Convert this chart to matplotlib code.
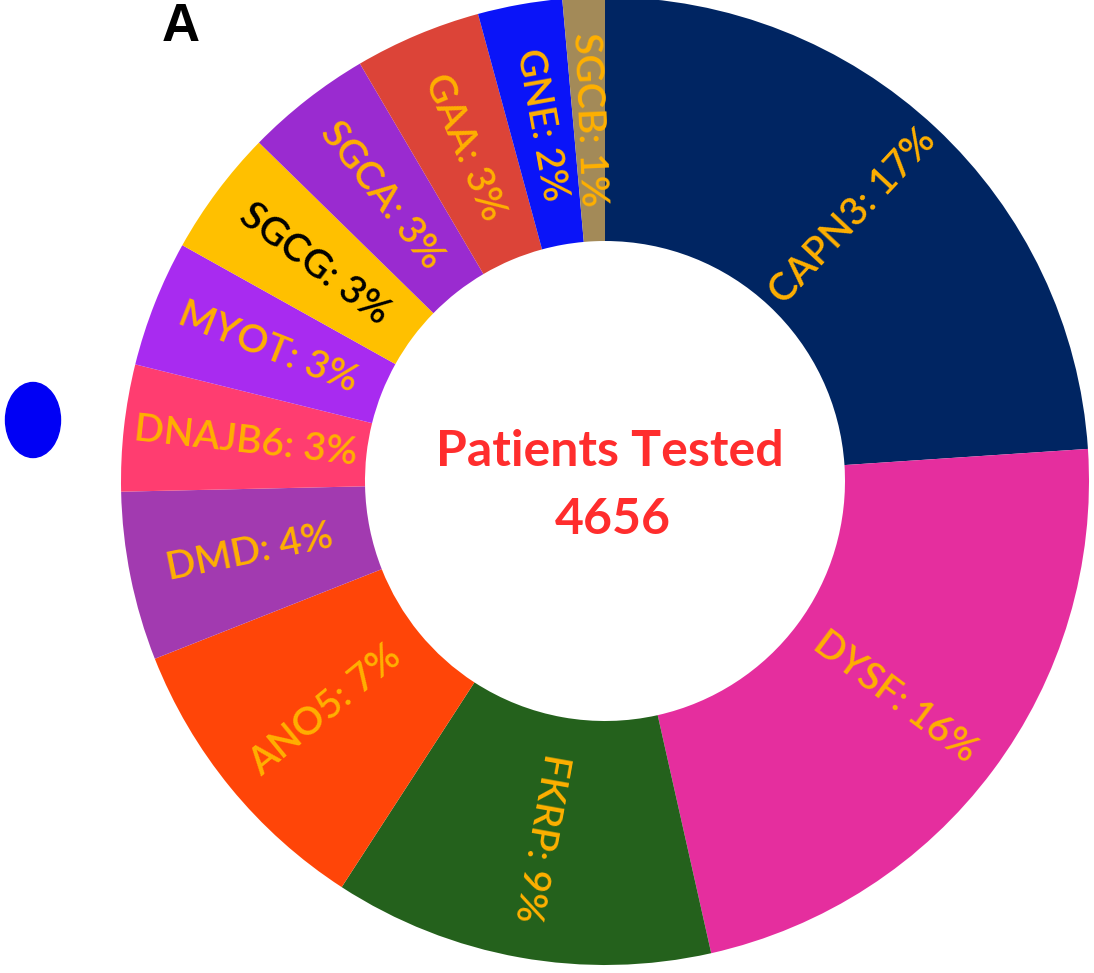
import numpy as np
import matplotlib.pyplot as plt
from matplotlib.patches import Ellipse

genes = ['CAPN3', 'DYSF', 'FKRP', 'ANO5', 'DMD', 'DNAJB6', 'MYOT',
         'SGCG', 'SGCA', 'GAA', 'GNE', 'SGCB']
percent = [17, 16, 9, 7, 4, 3, 3, 3, 3, 3, 2, 1]
colors = ['#002562', '#E52E9E', '#24611C', '#FF4508', '#A23AB0', '#FF3D70',
          '#A82BF0', '#FFC000', '#9A2BD0', '#DC4438', '#0A14F8', '#A38A58']
label_colors = ['#FFB000'] * len(genes)
label_colors[genes.index('SGCG')] = 'black'
total_tested = 4656

W, H = 1094, 973
fig = plt.figure(figsize=(W / 100, H / 100), dpi=100)
ax = fig.add_axes([0, 0, 1, 1])

cx, cy = 605, H - 481
R = 484
ring = 244

wedges, _ = ax.pie(percent, colors=colors, startangle=90, counterclock=False,
                   radius=R, center=(cx, cy), frame=True,
                   wedgeprops=dict(width=ring, linewidth=0))
ax.set_xlim(0, W)
ax.set_ylim(0, H)
ax.set_aspect('equal')
ax.axis('off')

r_lab = R - ring / 2
for w, g, p, lc in zip(wedges, genes, percent, label_colors):
    mid = (w.theta1 + w.theta2) / 2
    if mid > 180:
        mid -= 360
    rot = mid
    if rot > 90:
        rot -= 180
    elif rot < -110:
        rot += 180
    x = cx + r_lab * np.cos(np.radians(mid))
    y = cy + r_lab * np.sin(np.radians(mid))
    ax.text(x, y, f'{g}: {p}%', rotation=rot, rotation_mode='anchor',
            ha='center', va='center', color=lc, fontsize=28, fontweight='semibold',
            family=['Lato', 'DejaVu Sans'])

ax.text(cx + 5, H - 452, 'Patients Tested', ha='center', va='center',
        color='#FF2D2D', fontsize=36, fontweight='bold', family=['Lato', 'DejaVu Sans'])
ax.text(cx + 8, H - 520, str(total_tested), ha='center', va='center',
        color='#FF2D2D', fontsize=36, fontweight='bold', family=['Lato', 'DejaVu Sans'])

ax.text(181, H - 27, 'A', ha='center', va='center', fontsize=38,
        fontweight='bold', family=['Liberation Sans', 'DejaVu Sans'])
ax.add_patch(Ellipse((33, H - 420), 55, 75, color='#0000F5'))

fig.savefig('out.png', dpi=100)
